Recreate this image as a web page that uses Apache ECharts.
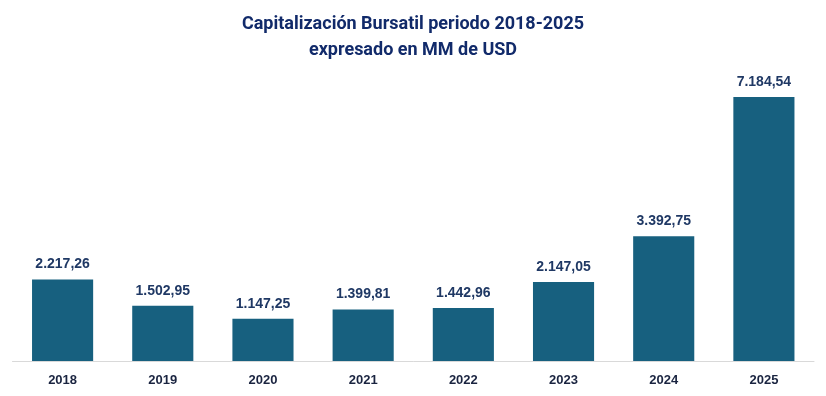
<!DOCTYPE html>
<html>
<head>
<meta charset="utf-8">
<script src="https://cdn.jsdelivr.net/npm/echarts@6/dist/echarts.min.js"></script>
<style>
  html, body { margin: 0; padding: 0; background: #fff; }
  #chart { width: 826px; height: 396px; }
</style>
</head>
<body>
<div id="chart"></div>
<script>
var years = ['2018', '2019', '2020', '2021', '2022', '2023', '2024', '2025'];
var capitalizacion = [2217.26, 1502.95, 1147.25, 1399.81, 1442.96, 2147.05, 3392.75, 7184.54];

(function () {
  var myChart = echarts.init(document.getElementById('chart'));

  // formato es-ES: 7.184,54
  function fmt(v) {
    var parts = v.toFixed(2).split('.');
    var ent = parts[0].replace(/\B(?=(\d{3})+(?!\d))/g, '.');
    return ent + ',' + parts[1];
  }

  var option = {
    animation: false,
    title: {
      text: 'Capitalización Bursatil periodo 2018-2025\nexpresado en MM de USD',
      left: 'center',
      top: 6,
      textStyle: {
        fontFamily: 'Roboto',
        fontSize: 18,
        fontWeight: 'bold',
        color: '#112a6a',
        lineHeight: 26
      }
    },
    grid: {
      left: 12.5,
      right: 12,
      top: 97,
      bottom: 35
    },
    xAxis: {
      type: 'category',
      data: years,
      axisTick: { show: false },
      axisLine: { lineStyle: { color: '#d9d9d9', width: 1 } },
      axisLabel: {
        margin: 13,
        fontFamily: 'Liberation Sans',
        fontSize: 13,
        fontWeight: 'bold',
        color: '#1a2440'
      }
    },
    yAxis: {
      type: 'value',
      show: false,
      min: 0,
      max: 'dataMax'
    },
    series: [{
      type: 'bar',
      data: capitalizacion,
      barWidth: '61%',
      itemStyle: { color: '#17607f' },
      label: {
        show: true,
        position: 'top',
        distance: 8,
        fontFamily: 'Liberation Sans',
        fontSize: 14,
        fontWeight: 'bold',
        color: '#1f3864',
        formatter: function (p) { return fmt(p.value); }
      }
    }]
  };

  myChart.setOption(option);
})();
</script>
</body>
</html>
